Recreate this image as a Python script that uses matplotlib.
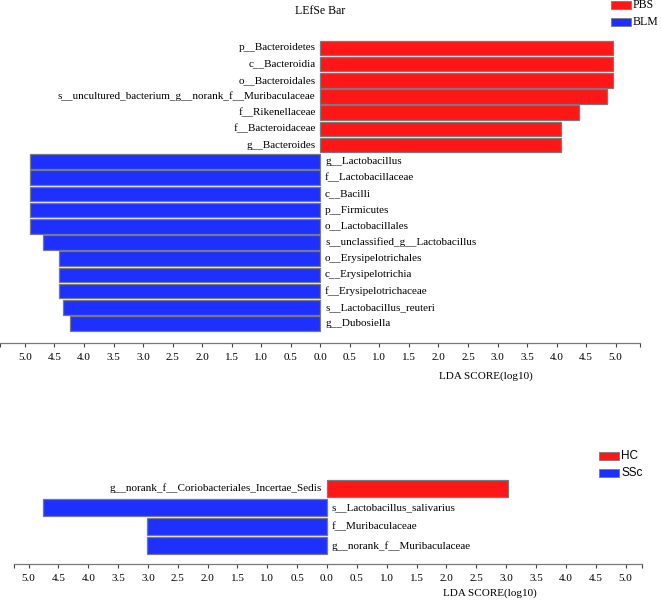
import matplotlib
matplotlib.use("Agg")
import matplotlib.pyplot as plt
from matplotlib.patches import Rectangle

# ---- data: top panel (PBS vs BLM) ----
top_taxa = ["p__Bacteroidetes", "c__Bacteroidia", "o__Bacteroidales",
            "s__uncultured_bacterium_g__norank_f__Muribaculaceae",
            "f__Rikenellaceae", "f__Bacteroidaceae", "g__Bacteroides",
            "g__Lactobacillus", "f__Lactobacillaceae", "c__Bacilli",
            "p__Firmicutes", "o__Lactobacillales",
            "s__unclassified_g__Lactobacillus", "o__Erysipelotrichales",
            "c__Erysipelotrichia", "f__Erysipelotrichaceae",
            "s__Lactobacillus_reuteri", "g__Dubosiella"]
top_lda = [4.95, 4.95, 4.95, 4.86, 4.38, 4.07, 4.07,
           4.92, 4.92, 4.92, 4.92, 4.92, 4.69, 4.43, 4.43, 4.43, 4.35, 4.23]
top_group = ["PBS"] * 7 + ["BLM"] * 11
top_groups = ["PBS", "BLM"]

# ---- data: bottom panel (HC vs SSc) ----
bot_taxa = ["g__norank_f__Coriobacteriales_Incertae_Sedis",
            "s__Lactobacillus_salivarius", "f__Muribaculaceae",
            "g__norank_f__Muribaculaceae"]
bot_lda = [3.03, 4.75, 3.01, 3.01]
bot_group = ["HC", "SSc", "SSc", "SSc"]
bot_groups = ["HC", "SSc"]

tick_vals = [-5, -4.5, -4, -3.5, -3, -2.5, -2, -1.5, -1, -0.5, 0,
             0.5, 1, 1.5, 2, 2.5, 3, 3.5, 4, 4.5, 5]

RED = "#FF1616"
BLUE = "#1E30FF"
EDGE = "#7A7A7A"
SERIF = ["Liberation Serif", "DejaVu Serif"]
SANS = ["Liberation Sans", "DejaVu Sans"]
FS = 8

W, H = 661, 601
fig = plt.figure(figsize=(W / 100, H / 100), dpi=100)


def px_axes(x0, y0, x1, y1):
    return fig.add_axes([x0 / W, 1 - y1 / H, (x1 - x0) / W, (y1 - y0) / H])


def draw_panel(ax, taxa, lda, group, groups, xlim, ylim, fs):
    colors = {groups[0]: RED, groups[1]: BLUE}
    for i, (t, v, g) in enumerate(zip(taxa, lda, group)):
        sign = 1 if g == groups[0] else -1
        ax.barh(i, sign * v, height=0.9, color=colors[g], edgecolor=EDGE,
                linewidth=0.9)
        if sign > 0:
            ax.text(-0.08, i, t, ha="right", va="center", fontsize=fs,
                    family=SERIF)
        else:
            ax.text(0.08, i, t, ha="left", va="center", fontsize=fs,
                    family=SERIF)
    ax.set_xlim(*xlim)
    ax.set_ylim(*ylim)
    for s in ["top", "left", "right"]:
        ax.spines[s].set_visible(False)
    ax.spines["bottom"].set_color(EDGE)
    ax.spines["bottom"].set_linewidth(0.9)
    ax.set_yticks([])
    ticks = [xlim[0] + 0.005] + tick_vals + [xlim[1] - 0.005]
    labels = [""] + [f"{abs(v):.1f}" for v in tick_vals] + [""]
    ax.set_xticks(ticks)
    ax.set_xticklabels(labels, family=SERIF, fontsize=fs)
    ax.tick_params(axis="x", direction="out", length=3, width=0.8,
                   color="#444444", pad=4)


ax1 = px_axes(0, 30, 640, 343)
x0_top, unit_top = 320.3, 59.07
draw_panel(ax1, top_taxa, top_lda, top_group, top_groups,
           (-x0_top / unit_top, (640 - x0_top) / unit_top), (18.2, -1.1), FS)
fig.text(486 / W, 1 - 376 / H, "LDA SCORE(log10)", ha="center",
         va="center", family=SERIF, fontsize=FS)

ax2 = px_axes(14, 470, 642, 564)
x0_bot, unit_bot = 327.0, 59.7
draw_panel(ax2, bot_taxa, bot_lda, bot_group, bot_groups,
           ((14 - x0_bot) / unit_bot, (642 - x0_bot) / unit_bot),
           (3.95, -0.95), FS)
fig.text(490 / W, 1 - 593 / H, "LDA SCORE(log10)", ha="center",
         va="center", family=SERIF, fontsize=FS)

# title
fig.text(320 / W, 1 - 11 / H, "LEfSe Bar", ha="center", va="center",
         family=SERIF, fontsize=8.5)


# legends drawn as figure patches
def legend_item(x, y, color, label, family, fs):
    fig.patches.append(Rectangle((x / W, 1 - (y + 4) / H), 20 / W, 8 / H,
                                 transform=fig.transFigure, facecolor=color,
                                 edgecolor=EDGE, linewidth=0.6))
    fig.text((x + 22) / W, 1 - y / H, label, ha="left", va="center",
             family=family, fontsize=fs)


legend_item(611, 5, RED, top_groups[0], SERIF, 8.5)
legend_item(611, 22, BLUE, top_groups[1], SERIF, 8.5)
legend_item(599, 456, RED, bot_groups[0], SANS, 8.5)
legend_item(599, 473, BLUE, bot_groups[1], SANS, 8.5)

fig.savefig("out.png", dpi=100)
